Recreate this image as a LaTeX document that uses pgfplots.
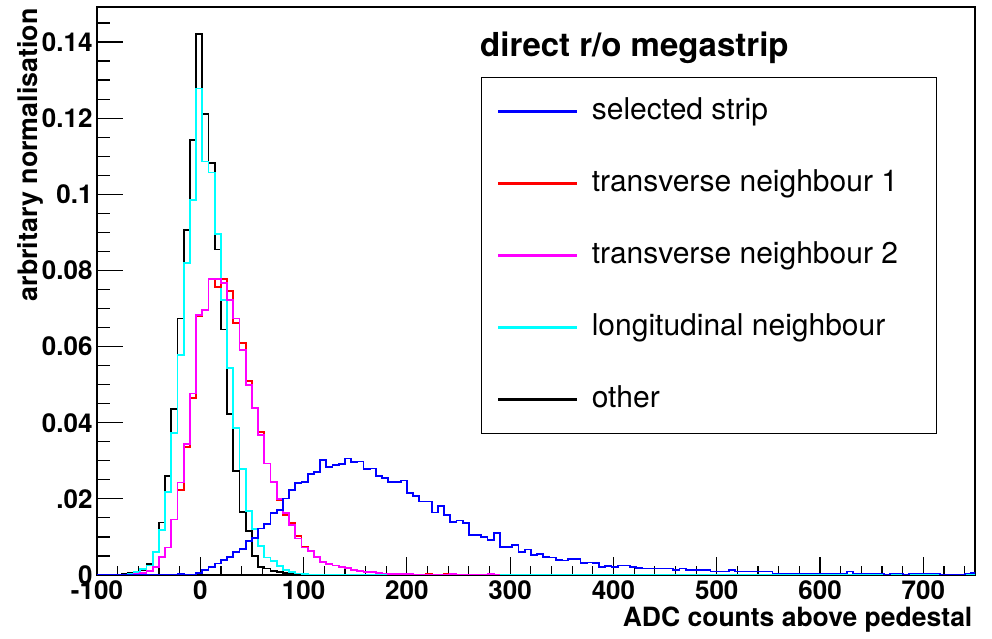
\documentclass[border=0pt]{standalone}
\usepackage{pgfplots}
\pgfplotsset{compat=1.18}
\usepackage{pgfplotstable}
\usepackage{fontspec}
\setmainfont{TeX Gyre Heros}
\definecolor{rblue}{RGB}{0,0,255}
\definecolor{rred}{RGB}{255,0,0}
\definecolor{rmag}{RGB}{255,0,255}
\definecolor{rcyan}{RGB}{0,255,255}

\pgfplotstableread{
x y
-100 0
-28 0
-22 0.0002
-16 0
-4 0.0005
2 0.0013
8 0.002
14 0.003
20 0.004
26 0.0048
32 0.006
38 0.0068
44 0.009
50 0.0098
56 0.0122
62 0.0133
68 0.0162
74 0.0171
80 0.0201
86 0.0223
92 0.0242
98 0.0245
104 0.0265
110 0.0271
116 0.0302
122 0.0283
128 0.0289
134 0.0292
140 0.0306
146 0.0296
152 0.0298
158 0.0278
164 0.028
170 0.026
176 0.0255
182 0.0245
188 0.0245
194 0.0248
200 0.0215
206 0.0208
212 0.0193
218 0.0193
224 0.0164
230 0.0181
236 0.0158
242 0.014
248 0.0143
254 0.0136
260 0.0105
266 0.0105
272 0.0099
278 0.0092
284 0.011
290 0.0074
296 0.0073
302 0.0079
308 0.0061
314 0.0067
320 0.0053
326 0.0055
332 0.0048
338 0.0046
344 0.004
350 0.0038
356 0.0043
362 0.0041
368 0.0031
374 0.0033
380 0.0031
386 0.0022
392 0.0024
398 0.0022
404 0.0025
410 0.0025
416 0.0022
422 0.0019
428 0.0017
458 0.0013
464 0.0017
470 0.0013
494 0.0009
512 0.0013
518 0.0009
554 0.0004
626 0.0009
632 0.0004
662 0
668 0.0004
680 0
686 0.0004
716 0
740 0.0004
746 0.0006
752 0.0006
}\selected

\pgfplotstableread{
x y
-82 0
-76 0.0002
-70 0.0005
-64 0.0008
-58 0.0012
-52 0.0028
-46 0.0061
-40 0.0138
-34 0.026
-28 0.0436
-22 0.0674
-16 0.0906
-10 0.1143
-4 0.1421
2 0.121
8 0.1083
14 0.0855
20 0.0645
26 0.0422
32 0.0273
38 0.0165
44 0.0116
50 0.0049
56 0.0022
62 0.0017
68 0.0011
74 0.0008
80 0.0005
86 0.0004
92 0.0003
98 0.0002
104 0.0001
110 0
116 0
}\other

\pgfplotstableread{
x y
-76 0
-70 0.0003
-64 0.0007
-58 0.0015
-52 0.0025
-46 0.006
-40 0.0118
-34 0.0219
-28 0.0374
-22 0.0578
-16 0.0819
-10 0.0985
-4 0.1278
2 0.1086
8 0.1057
14 0.0895
20 0.0722
26 0.0543
32 0.0387
38 0.0278
44 0.0169
50 0.0121
56 0.0077
62 0.0046
68 0.0037
74 0.0024
80 0.0013
86 0.0007
92 0.0004
98 0.0002
104 0
752 0
}\longit

\pgfplotstableread{
x y
-76 0
-64 0.0002
-58 0.0006
-52 0.001
-46 0.0022
-40 0.0048
-34 0.0072
-28 0.0146
-22 0.0223
-16 0.0337
-10 0.0464
-4 0.068
2 0.0696
8 0.0777
14 0.0757
20 0.0777
26 0.0747
32 0.0661
38 0.0609
44 0.051
50 0.0438
56 0.0375
62 0.0293
68 0.0245
74 0.0196
80 0.0158
86 0.0137
92 0.0102
98 0.0074
104 0.0062
110 0.0048
116 0.0035
122 0.0029
128 0.0025
134 0.0022
140 0.0018
146 0.0013
152 0.0012
158 0.0008
164 0.0007
170 0.0005
176 0.0004
182 0.0003
200 0.0003
206 0.0001
218 0.0003
224 0.0001
236 0.0003
242 0.0001
248 0
254 0
}\transA

\pgfplotstableread{
x y
-76 0
-64 0.0002
-58 0.0006
-52 0.001
-46 0.0022
-40 0.0048
-34 0.0072
-28 0.0146
-22 0.0243
-16 0.0344
-10 0.0477
-4 0.0683
2 0.0696
8 0.0777
14 0.0777
20 0.0768
26 0.0722
32 0.0674
38 0.0591
44 0.0499
50 0.0438
56 0.0368
62 0.0293
68 0.0245
74 0.02
80 0.0162
86 0.0131
92 0.0096
98 0.0072
104 0.0062
110 0.0048
116 0.0035
122 0.0029
128 0.0025
134 0.0022
140 0.0018
146 0.0013
152 0.001
158 0.0008
164 0.0007
170 0.0006
176 0.0004
182 0.0003
200 0.0002
206 0.0001
242 0.0003
248 0.0001
254 0
278 0.0003
284 0
290 0
}\transB

\begin{document}
\begin{tikzpicture}
\path[use as bounding box] (0pt,0pt) rectangle (992pt,639pt);
\begin{axis}[
  at={(97pt,64pt)}, anchor=south west,
  scale only axis, width=878pt, height=568pt,
  xmin=-100, xmax=750, ymin=0, ymax=0.1492,
  axis line style={line width=1.2pt, black},
  tick align=inside, xtick pos=bottom, ytick pos=left,
  xtick={-100,0,100,200,300,400,500,600,700},
  minor xtick={-80,-60,-40,-20,20,40,60,80,120,140,160,180,220,240,260,280,320,340,360,380,420,440,460,480,520,540,560,580,620,640,660,680,720,740},
  ytick={0,0.02,0.04,0.06,0.08,0.1,0.12,0.14},
  yticklabels={0,.02,0.04,0.06,0.08,0.1,0.12,0.14},
  minor ytick={0.005,0.01,0.015,0.025,0.03,0.035,0.045,0.05,0.055,0.065,0.07,0.075,0.085,0.09,0.095,0.105,0.11,0.115,0.125,0.13,0.135,0.145},
  xtick style={line width=1.2pt, black, /pgfplots/major tick length=18pt, /pgfplots/minor tick length=9pt},
  ytick style={line width=1.2pt, black, /pgfplots/major tick length=26pt, /pgfplots/minor tick length=13pt},
  /pgf/number format/assume math mode=true,
  xticklabel style={font=\fontsize{26}{26}\selectfont\bfseries, yshift=-2pt},
  yticklabel style={font=\fontsize{26}{26}\selectfont\bfseries, xshift=-1pt},
  xlabel={ADC counts above pedestal},
  ylabel={arbritary normalisation},
  xlabel style={font=\fontsize{26.5}{26.5}\selectfont\bfseries, at={(axis description cs:1.001,-0.0915)}, anchor=base east},
  ylabel style={font=\fontsize{26.8}{26.8}\selectfont\bfseries, at={(axis description cs:-0.0683,1.0035)}, anchor=base east},
  legend cell align=left,
  legend style={at={(0.4374,0.8768)}, anchor=north west, draw=black, line width=1.2pt, fill=white,
    inner xsep=16pt, inner ysep=19.5pt, row sep=43pt, column sep=15pt,
    font=\fontsize{30}{30}\selectfont,
    nodes={inner sep=0pt, text height=22pt, text depth=7pt}},
]
\addplot[const plot, black, line width=1.8pt, forget plot] table {\other};
\addplot[const plot, rcyan, line width=1.8pt, forget plot] table {\longit};
\addplot[const plot, rred, line width=1.8pt, forget plot] table {\transA};
\addplot[const plot, rmag, line width=1.8pt, forget plot] table {\transB};
\addplot[const plot, rblue, line width=1.8pt, forget plot] table {\selected};
\addlegendimage{legend image code/.code={\fill[rblue] (0pt,-1.1pt) rectangle (78pt,1.1pt);}}
\addlegendentry{\makebox[329pt][l]{selected strip}}
\addlegendimage{legend image code/.code={\fill[rred] (0pt,-1.1pt) rectangle (78pt,1.1pt);}}
\addlegendentry{\makebox[329pt][l]{transverse neighbour 1}}
\addlegendimage{legend image code/.code={\fill[rmag] (0pt,-1.1pt) rectangle (78pt,1.1pt);}}
\addlegendentry{\makebox[329pt][l]{transverse neighbour 2}}
\addlegendimage{legend image code/.code={\fill[rcyan] (0pt,-1.1pt) rectangle (78pt,1.1pt);}}
\addlegendentry{\makebox[329pt][l]{longitudinal neighbour}}
\addlegendimage{legend image code/.code={\fill[black] (0pt,-1.1pt) rectangle (78pt,1.1pt);}}
\addlegendentry{\makebox[329pt][l]{other}}
\node[anchor=base west, font=\fontsize{33}{33}\selectfont\bfseries, inner sep=0pt] at (rel axis cs:0.4362,0.912) {direct r/o megastrip};
\end{axis}
\end{tikzpicture}
\end{document}
